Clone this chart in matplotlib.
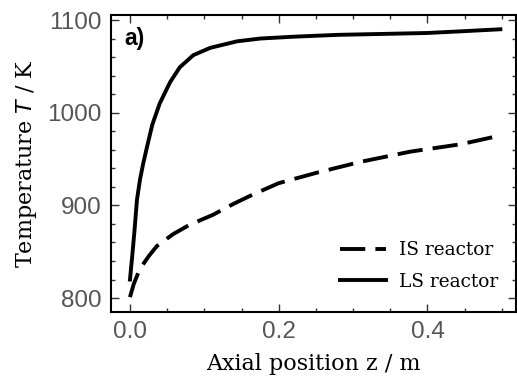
import matplotlib
matplotlib.use("Agg")
import matplotlib.pyplot as plt
from matplotlib.ticker import MultipleLocator

plt.rcParams['font.family'] = ['Liberation Sans', 'DejaVu Sans']

z_ls = [0, 0.003, 0.006, 0.0094, 0.0135, 0.0175, 0.022, 0.03, 0.04, 0.054, 0.067,
        0.085, 0.108, 0.144, 0.175, 0.22, 0.28, 0.34, 0.4, 0.45, 0.498]
T_ls = [820, 845, 872, 906, 928, 944, 960, 987, 1010, 1033, 1049,
        1062, 1070, 1077, 1080, 1082, 1084, 1085, 1086, 1088, 1090]

z_is = [0, 0.005, 0.013, 0.025, 0.036, 0.058, 0.08, 0.112, 0.14, 0.166, 0.2,
        0.25, 0.31, 0.377, 0.445, 0.49]
T_is = [801, 815, 831, 845, 856, 869, 879, 890, 902, 912, 924,
        935, 947, 958, 966, 974]

fig = plt.figure(figsize=(5.17, 3.78), dpi=100)
ax = fig.add_axes([111/517, 1-312/378, (516-111)/517, (312-15)/378])

ax.plot(z_is, T_is, color='black', lw=2.8, ls=(0, (6.5, 2.6)), label='IS reactor')
ax.plot(z_ls, T_ls, color='black', lw=2.8, label='LS reactor')

ax.set_xlim(-0.0255, 0.519)
ax.set_ylim(785, 1105.4)
ax.xaxis.set_major_locator(MultipleLocator(0.2))
ax.xaxis.set_minor_locator(MultipleLocator(0.05))
ax.yaxis.set_major_locator(MultipleLocator(100))
ax.yaxis.set_minor_locator(MultipleLocator(20))
ax.tick_params(which='both', direction='in', top=True, right=True, width=1.0,
               color='#333333', labelcolor='#555555', labelsize=17.5)
ax.tick_params(axis='y', pad=6.5)
ax.tick_params(axis='x', pad=6.5)
ax.tick_params(which='major', length=6)
ax.tick_params(which='minor', length=3)
for s in ax.spines.values():
    s.set_linewidth(1.5)

serif = 'DejaVu Serif'
ax.set_xlabel('Axial position z / m', family=serif, fontsize=16, labelpad=7)
ax.set_ylabel('Temperature $T$ / K', family=serif, fontsize=16, labelpad=6)

ax.text(0.032, 0.922, 'a)', transform=ax.transAxes, fontsize=16.5, fontweight='bold',
        va='center', ha='left')

leg = ax.legend(loc='lower right', bbox_to_anchor=(1, 0.012), frameon=False,
                prop={'family': serif, 'size': 13.3},
                handlelength=2.5, borderaxespad=0.55, handletextpad=0.7,
                labelspacing=0.75)

fig.savefig('out.png', dpi=100)
